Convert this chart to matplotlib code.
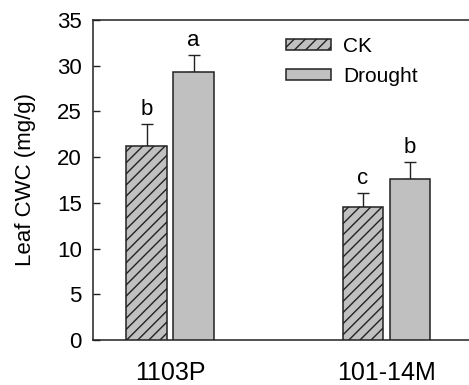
import numpy as np
import matplotlib
matplotlib.use('Agg')
import matplotlib.pyplot as plt

plt.rcParams['font.family'] = ['Liberation Sans', 'DejaVu Sans']

categories = ['1103P', '101-14M']
ck = [21.2, 14.55]
ck_err = [2.4, 1.5]
drought = [29.35, 17.6]
drought_err = [1.8, 1.9]
ck_letters = ['b', 'c']
drought_letters = ['a', 'b']

x = np.arange(len(categories))
width = 0.189
offset = 0.1085
fill = '#c0c0c0'
edge = '#222222'

fig = plt.figure(figsize=(4.69, 3.85), dpi=100)
ax = fig.add_axes([93 / 469, 45 / 385, 376 / 469, 320 / 385])

ax.bar(x - offset, ck, width, color=fill, edgecolor=edge, hatch='///',
       linewidth=1.1, zorder=3, label='CK')
ax.bar(x + offset, drought, width, color=fill, edgecolor=edge,
       linewidth=1.1, zorder=3, label='Drought')

ax.errorbar(x - offset, ck, yerr=[np.zeros(len(ck)), ck_err], fmt='none',
            ecolor=edge, elinewidth=1.0, capsize=4, capthick=1.0, zorder=2)
ax.errorbar(x + offset, drought, yerr=[np.zeros(len(drought)), drought_err],
            fmt='none', ecolor=edge, elinewidth=1.0, capsize=4, capthick=1.0,
            zorder=2)

for xi, v, e, t in zip(x - offset, ck, ck_err, ck_letters):
    ax.annotate(t, (xi, v + e), xytext=(0, 3), textcoords='offset points',
                ha='center', va='bottom', fontsize=16)
for xi, v, e, t in zip(x + offset, drought, drought_err, drought_letters):
    ax.annotate(t, (xi, v + e), xytext=(0, 3), textcoords='offset points',
                ha='center', va='bottom', fontsize=16)

ax.set_xlim(-0.356, 1.381)
ax.set_ylim(0, 35)
ax.set_yticks(np.arange(0, 36, 5))
ax.set_xticks(x)
ax.set_xticklabels(categories, fontsize=18)
ax.tick_params(axis='x', length=0, pad=15)
ax.tick_params(axis='y', direction='in', length=5, width=1, pad=8,
               labelsize=16, color=edge)
ax.set_ylabel('Leaf CWC (mg/g)', fontsize=16, labelpad=15)

ax.spines['right'].set_visible(False)
for s in ['left', 'top', 'bottom']:
    ax.spines[s].set_color(edge)
    ax.spines[s].set_linewidth(1.1)

ax.legend(loc='upper left', bbox_to_anchor=(0.513, 0.948), frameon=False,
          fontsize=15, handlelength=2.15, handleheight=0.43,
          handletextpad=0.6, labelspacing=0.55, borderpad=0,
          borderaxespad=0)

fig.savefig('out.png', dpi=100)
